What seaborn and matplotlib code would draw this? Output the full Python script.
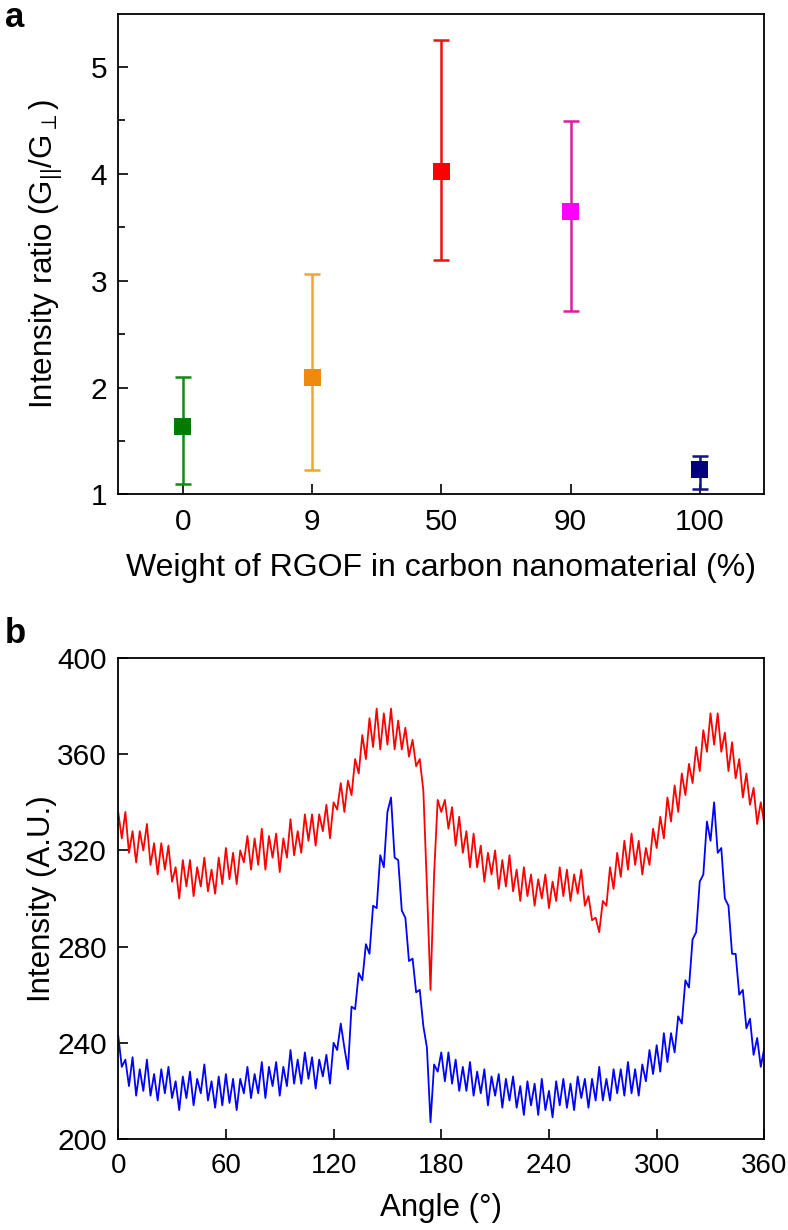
import numpy as np
import pandas as pd
import seaborn as sns
import matplotlib
matplotlib.use("Agg")
import matplotlib.pyplot as plt

# panel a: intensity ratio vs RGOF weight
weights = ["0", "9", "50", "90", "100"]
ratio = [1.64, 2.09, 4.02, 3.65, 1.23]
ratio_hi = [2.10, 3.06, 5.25, 4.49, 1.36]
ratio_lo = [1.10, 1.23, 3.19, 2.72, 1.05]
marker_colors = ["#007d00", "#ee8a10", "#ff0000", "#ff00ff", "#00007f"]
bar_colors = ["#108c10", "#f5a623", "#f01010", "#d81fa0", "#10108c"]

# panel b: polarised intensity vs angle, read every 2 degrees
angle = list(range(0, 361, 2))
red_trace = [
    336, 325, 336, 319, 328, 315, 328, 320, 331, 314, 323, 310, 323, 312, 322, 307,
    313, 300, 316, 305, 316, 301, 313, 305, 317, 303, 312, 302, 317, 306, 321, 308,
    319, 306, 320, 315, 326, 312, 325, 314, 329, 312, 326, 317, 327, 311, 325, 317,
    333, 318, 328, 319, 335, 324, 335, 322, 335, 328, 339, 325, 340, 337, 348, 336,
    349, 343, 358, 352, 368, 358, 375, 363, 379, 362, 377, 364, 379, 362, 374, 362,
    371, 359, 366, 355, 358, 345, 305, 262, 310, 341, 336, 341, 329, 338, 322, 334,
    319, 328, 313, 327, 313, 322, 307, 319, 310, 320, 304, 316, 305, 318, 303, 312,
    299, 313, 301, 310, 297, 308, 300, 310, 296, 307, 299, 313, 301, 312, 299, 310,
    302, 312, 297, 301, 291, 292, 286, 299, 297, 313, 304, 319, 309, 324, 312, 327,
    314, 324, 310, 321, 314, 329, 321, 334, 325, 342, 332, 347, 336, 352, 343, 356,
    348, 363, 353, 370, 361, 377, 364, 377, 361, 369, 353, 365, 350, 358, 342, 352,
    339, 346, 331, 340, 331,
]
blue_trace = [
    243, 230, 233, 222, 234, 218, 229, 220, 233, 218, 227, 216, 229, 219, 230, 217,
    224, 212, 226, 217, 228, 214, 225, 219, 231, 216, 224, 213, 226, 214, 227, 215,
    225, 212, 225, 219, 230, 217, 227, 219, 232, 217, 230, 222, 232, 218, 230, 222,
    237, 223, 233, 223, 236, 225, 234, 221, 233, 226, 235, 223, 240, 237, 248, 238,
    229, 255, 254, 269, 266, 281, 277, 297, 296, 318, 313, 336, 342, 317, 316, 295,
    292, 274, 275, 261, 262, 247, 238, 207, 231, 228, 236, 224, 236, 223, 233, 220,
    230, 220, 232, 218, 228, 219, 229, 214, 226, 218, 227, 213, 225, 216, 226, 213,
    222, 210, 224, 214, 223, 210, 225, 212, 220, 209, 224, 214, 225, 213, 223, 212,
    226, 217, 225, 213, 225, 216, 230, 216, 225, 216, 229, 219, 229, 218, 232, 219,
    229, 218, 231, 224, 237, 227, 239, 228, 244, 232, 244, 236, 251, 248, 266, 263,
    283, 286, 307, 310, 332, 324, 340, 319, 321, 300, 297, 277, 277, 260, 262, 246,
    250, 235, 242, 230, 238,
]

sns.set_style("ticks")
plt.rcParams["font.family"] = ["Liberation Sans", "DejaVu Sans"]
plt.rcParams["mathtext.fontset"] = "dejavusans"
plt.rcParams["xtick.direction"] = "in"
plt.rcParams["ytick.direction"] = "in"
for key in ["text.color", "axes.labelcolor", "xtick.color", "ytick.color", "axes.edgecolor"]:
    plt.rcParams[key] = "black"

fig = plt.figure(figsize=(7.88, 12.30), dpi=100)
ax1 = fig.add_axes([0.150, 0.598, 0.820, 0.391])
ax2 = fig.add_axes([0.150, 0.074, 0.820, 0.391])

# --- panel a ---
pts = pd.DataFrame({"weight": weights, "ratio": ratio})
for i in range(len(weights)):
    ax1.errorbar(i, ratio[i],
                 yerr=[[ratio[i] - ratio_lo[i]], [ratio_hi[i] - ratio[i]]],
                 fmt="none", ecolor=bar_colors[i], elinewidth=1.8,
                 capsize=6, capthick=1.8, zorder=2)
sns.scatterplot(data=pts, x=np.arange(len(weights)), y="ratio", hue="weight",
                palette=marker_colors, marker="s", s=150, edgecolor="none",
                legend=False, ax=ax1, zorder=3)
ax1.set_xlim(-0.5, 4.5)
ax1.set_ylim(1, 5.5)
ax1.set_xticks(range(len(weights)))
ax1.set_xticklabels(weights)
ax1.set_yticks([1, 2, 3, 4, 5])
ax1.set_yticks([1.5, 2.5, 3.5, 4.5], minor=True)
ax1.set_xlabel("Weight of RGOF in carbon nanomaterial (%)", fontsize=23, labelpad=12)
ax1.set_ylabel(r"Intensity ratio (G$_{\mathregular{||}}$/G$_{\perp}$)", fontsize=22.5)

# --- panel b ---
trace_df = pd.DataFrame({"angle": angle + angle,
                         "intensity": red_trace + blue_trace,
                         "sample": ["red"] * len(angle) + ["blue"] * len(angle)})
sns.lineplot(data=trace_df, x="angle", y="intensity", hue="sample",
             palette={"red": "#ff0000", "blue": "#0000ff"}, linewidth=1.3,
             legend=False, ax=ax2)
ax2.set_xlim(0, 360)
ax2.set_ylim(200, 400)
ax2.set_xticks(range(0, 361, 60))
ax2.set_yticks(range(200, 401, 40))
ax2.set_xlabel("Angle (°)", fontsize=22.5, labelpad=10)
ax2.set_ylabel("Intensity (A.U.)", fontsize=22.5)

for ax in (ax1, ax2):
    ax.tick_params(axis="both", which="major", labelsize=21.5, length=7.5, width=1.2,
                   top=False, right=False)
    ax.tick_params(axis="x", which="major", pad=10)
    ax.tick_params(axis="y", which="major", pad=8)
    ax.tick_params(axis="y", which="minor", length=5, width=1.2, right=False)
    for sp in ax.spines.values():
        sp.set_linewidth(1.3)
        sp.set_visible(True)
ax2.tick_params(axis="x", which="major", labelsize=20)
ax1.yaxis.set_label_coords(-0.082, 0.5)
ax2.yaxis.set_label_coords(-0.094, 0.5)

fig.text(0.006, 0.999, "a", fontsize=25, fontweight="bold", va="top", ha="left")
fig.text(0.006, 0.498, "b", fontsize=25, fontweight="bold", va="top", ha="left")

fig.savefig("out.png", dpi=100)
